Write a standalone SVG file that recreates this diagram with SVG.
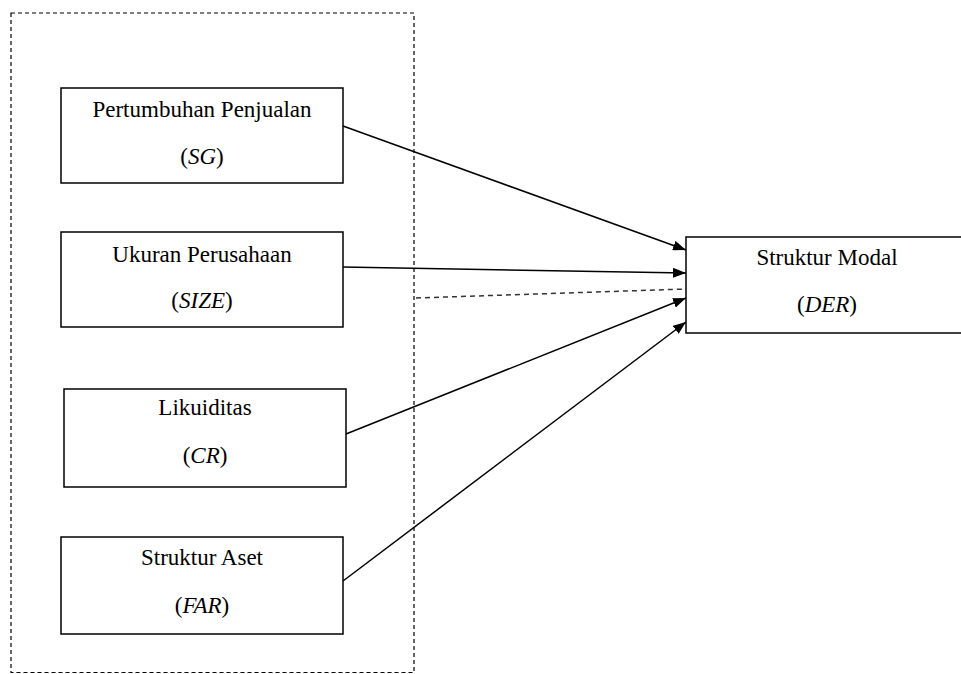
<svg xmlns="http://www.w3.org/2000/svg" width="961" height="674" viewBox="0 0 961 674">
<style>
.box{fill:#fff;stroke:#000;stroke-width:1.5}
.t{font-family:"Liberation Serif","Times New Roman",serif;font-size:23px;fill:#000;text-anchor:middle}
.i{font-style:italic}
.c{stroke:#000;stroke-width:1.5;fill:none}
.d{stroke:#333;stroke-width:1.5;fill:none;stroke-dasharray:5,4}
</style>
<defs>
<marker id="ah" markerUnits="userSpaceOnUse" markerWidth="14" markerHeight="10" refX="13" refY="5" orient="auto">
<path d="M0,0 L13,5 L0,10 Z" fill="#000"/>
</marker>
</defs>
<rect id="frame" x="11" y="13" width="403" height="659.5" fill="none" stroke="#000" stroke-width="1.2" stroke-dasharray="4,3"/>
<g id="connectors">
<line class="c" x1="343" y1="126" x2="686" y2="250" marker-end="url(#ah)"/>
<line class="c" x1="343" y1="267" x2="686" y2="273" marker-end="url(#ah)"/>
<line class="d" x1="416" y1="298" x2="686" y2="289"/>
<line class="c" x1="346" y1="434" x2="686" y2="298" marker-end="url(#ah)"/>
<line class="c" x1="343" y1="581" x2="686" y2="322" marker-end="url(#ah)"/>
</g>
<g id="sg">
<rect class="box" x="61" y="88" width="282" height="95"/>
<text class="t" x="202" y="117">Pertumbuhan Penjualan</text>
<text class="t" x="202" y="164">(<tspan class="i">SG</tspan>)</text>
</g>
<g id="size">
<rect class="box" x="61" y="232" width="282" height="95"/>
<text class="t" x="202" y="262">Ukuran Perusahaan</text>
<text class="t" x="202" y="308">(<tspan class="i">SIZE</tspan>)</text>
</g>
<g id="cr">
<rect class="box" x="64" y="389" width="282" height="98"/>
<text class="t" x="205" y="415">Likuiditas</text>
<text class="t" x="205" y="463">(<tspan class="i">CR</tspan>)</text>
</g>
<g id="far">
<rect class="box" x="61" y="537" width="282" height="97"/>
<text class="t" x="202" y="565">Struktur Aset</text>
<text class="t" x="202" y="613">(<tspan class="i">FAR</tspan>)</text>
</g>
<g id="der">
<rect class="box" x="686" y="237" width="282" height="96"/>
<text class="t" x="827" y="265">Struktur Modal</text>
<text class="t" x="827" y="312">(<tspan class="i">DER</tspan>)</text>
</g>
</svg>
